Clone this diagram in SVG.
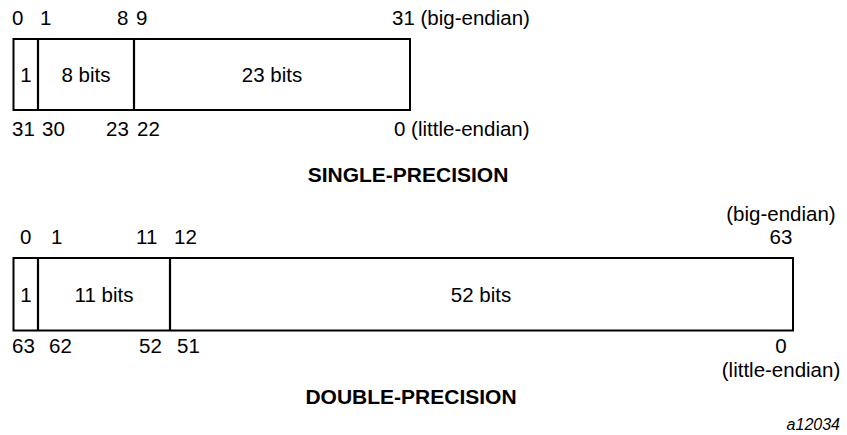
<svg xmlns="http://www.w3.org/2000/svg" width="847" height="435" viewBox="0 0 847 435">
<style>
text{font-family:"Liberation Sans",Arial,sans-serif;font-size:20.5px;fill:#000}
.c{text-anchor:middle}
.t{font-weight:bold;font-size:21px;text-anchor:middle}
.f{fill:#fff;stroke:#000;stroke-width:2}
.d{stroke:#000;stroke-width:2.2}
.n{font-style:italic;font-size:16px;text-anchor:end}
</style>
<rect width="847" height="435" fill="#fff"/>
<g id="single">
<rect class="f" x="13.5" y="39" width="396.5" height="71"/>
<line class="d" x1="38" y1="39" x2="38" y2="110"/>
<line class="d" x1="134" y1="39" x2="134" y2="110"/>
<text class="c" x="26" y="82">1</text>
<text class="c" x="86" y="82">8 bits</text>
<text class="c" x="272" y="82">23 bits</text>
<text x="12" y="25">0</text>
<text x="40" y="25">1</text>
<text x="117" y="25">8</text>
<text x="136" y="25">9</text>
<text x="392" y="25">31 (big-endian)</text>
<text x="12" y="136">31</text>
<text x="42" y="136">30</text>
<text x="106" y="136">23</text>
<text x="137" y="136">22</text>
<text x="394" y="136">0 (little-endian)</text>
<text class="t" x="408" y="182">SINGLE-PRECISION</text>
</g>
<g id="double">
<rect class="f" x="13.5" y="258" width="779.5" height="72.5"/>
<line class="d" x1="38" y1="258" x2="38" y2="330.5"/>
<line class="d" x1="170" y1="258" x2="170" y2="330.5"/>
<text class="c" x="26" y="302">1</text>
<text class="c" x="104" y="302">11 bits</text>
<text class="c" x="481" y="302">52 bits</text>
<text x="20" y="244">0</text>
<text x="51" y="244">1</text>
<text x="136" y="244">11</text>
<text x="174" y="244">12</text>
<text class="c" x="781" y="221">(big-endian)</text>
<text class="c" x="781" y="244">63</text>
<text x="12" y="353">63</text>
<text x="49" y="353">62</text>
<text x="139" y="353">52</text>
<text x="177" y="353">51</text>
<text class="c" x="781" y="353">0</text>
<text class="c" x="781" y="377">(little-endian)</text>
<text class="t" x="411" y="404">DOUBLE-PRECISION</text>
</g>
<text class="n" x="840" y="430">a12034</text>
</svg>
